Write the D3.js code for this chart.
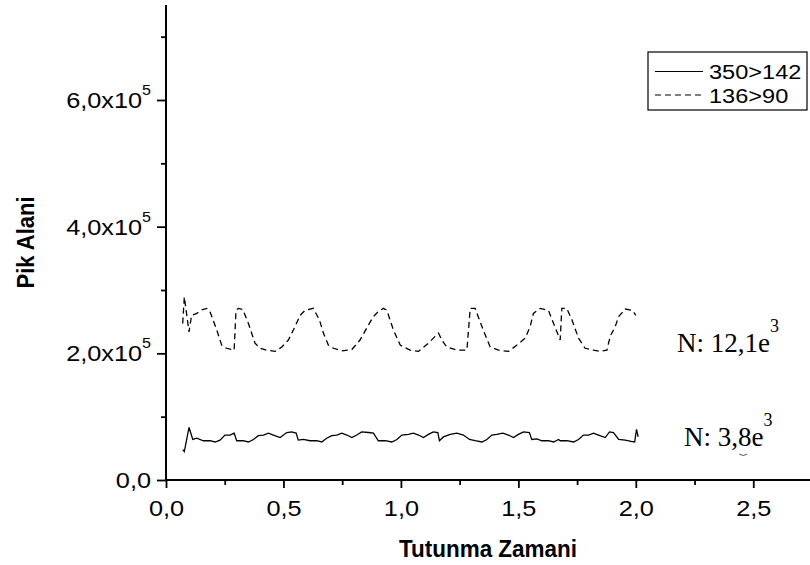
<!DOCTYPE html>
<html>
<head>
<meta charset="utf-8">
<script src="https://cdn.jsdelivr.net/npm/d3@7"></script>
<style>
  html, body { margin: 0; padding: 0; background: #fff; }
  svg { display: block; }
  text { fill: #000; }
</style>
</head>
<body>
<svg id="chart" width="810" height="565"></svg>
<script>
// ---- data ----
const series1Name = "350>142";
const series2Name = "136>90";
const s1Time = [0.071,0.078,0.098,0.114,0.131,0.159,0.187,0.209,0.230,0.251,0.273,0.290,0.301,0.329,0.351,0.372,0.393,0.415,0.436,0.457,0.486,0.514,0.535,0.554,0.563,0.585,0.613,0.642,0.663,0.684,0.706,0.727,0.748,0.770,0.791,0.812,0.833,0.862,0.883,0.904,0.933,0.961,0.983,1.004,1.032,1.053,1.075,1.096,1.117,1.138,1.157,1.164,1.181,1.210,1.238,1.266,1.292,1.316,1.345,1.366,1.387,1.408,1.434,1.458,1.479,1.500,1.522,1.547,1.557,1.579,1.600,1.628,1.650,1.671,1.678,1.706,1.735,1.756,1.777,1.799,1.820,1.841,1.870,1.888,1.905,1.927,1.955,1.980,1.995,2.003,2.010];
const s1Value = [48000,45000,83000,64000,66000,62000,62000,60000,63000,71000,71000,74000,62000,62000,60000,64000,70000,71000,74000,71000,67000,75000,76000,74000,63000,64000,62000,62000,60000,66000,70000,71000,74000,71000,67000,71000,76000,75000,74000,62000,62000,60000,64000,71000,72000,74000,71000,67000,72000,76000,75000,62000,68000,72000,74000,71000,64000,62000,60000,64000,71000,72000,74000,71000,67000,72000,76000,75000,64000,65000,62000,62000,60000,64000,62000,62000,60000,64000,71000,71000,74000,71000,67000,76000,75000,64000,63000,61000,60000,80000,68000];
const s2Time = [0.071,0.078,0.098,0.109,0.131,0.148,0.173,0.187,0.216,0.237,0.258,0.290,0.298,0.308,0.327,0.351,0.379,0.400,0.429,0.464,0.493,0.521,0.549,0.571,0.592,0.627,0.653,0.670,0.691,0.713,0.748,0.791,0.826,0.862,0.883,0.904,0.926,0.940,0.968,0.997,1.039,1.075,1.117,1.160,1.174,1.195,1.238,1.281,1.295,1.316,1.337,1.359,1.380,1.415,1.458,1.494,1.529,1.550,1.564,1.593,1.628,1.650,1.678,1.685,1.706,1.728,1.756,1.784,1.820,1.848,1.877,1.891,1.912,1.927,1.955,1.985,2.000];
const s2Value = [247000,289000,234000,260000,263000,268000,271000,266000,237000,213000,208000,205000,268000,271000,269000,247000,216000,208000,205000,203000,210000,221000,242000,260000,268000,271000,253000,232000,213000,208000,204000,206000,221000,245000,258000,266000,271000,268000,237000,213000,205000,203000,216000,232000,221000,210000,205000,205000,271000,271000,250000,229000,210000,205000,203000,213000,224000,242000,263000,271000,268000,247000,221000,271000,271000,253000,224000,208000,205000,203000,205000,227000,242000,258000,270000,268000,260000];
const xTicks = [0, 0.5, 1.0, 1.5, 2.0, 2.5];
const xTickLabels = ["0,0", "0,5", "1,0", "1,5", "2,0", "2,5"];
const yTicks = [0, 200000, 400000, 600000];
const yTickMantissa = ["0,0", "2,0x10", "4,0x10", "6,0x10"];
const yTickExponent = ["", "5", "5", "5"];
const annotations = [
  { base: "N: 12,1e", sup: "3", t: 2.175, v: 202000 },
  { base: "N: 3,8e", sup: "3", t: 2.205, v: 53700 }
];

// ---- layout ----
const svg = d3.select("#chart");
const x = d3.scaleLinear().domain([0, 2.75]).range([166, 812]);
const y = d3.scaleLinear().domain([0, 750000]).range([480, 5]);
const SANS = "Liberation Sans, Arial, Helvetica, sans-serif";
const SERIF = "Liberation Serif, Times New Roman, serif";
const STRETCH = 1.15;

// axes
const xAxis = d3.axisBottom(x).tickValues(xTicks).tickFormat((d, i) => xTickLabels[i]).tickSize(8).tickPadding(12);
const xMinor = d3.axisBottom(x).tickValues(d3.range(0.25, 2.75, 0.5)).tickFormat("").tickSize(5);
const yAxis = d3.axisLeft(y).tickValues(yTicks).tickFormat("").tickSize(9);
const yMinor = d3.axisLeft(y).tickValues([100000, 300000, 500000, 700000]).tickFormat("").tickSize(5);

function styleAxis(g) {
  g.select(".domain").remove();
  g.selectAll("line").attr("stroke", "#000").attr("stroke-width", 1.8);
  g.selectAll("text").attr("font-family", SANS).attr("font-size", 22).attr("fill", "#000")
    .attr("transform", `scale(${STRETCH},1)`);
}

svg.append("g").attr("transform", `translate(0,${y(0)})`).call(xAxis).call(styleAxis);
svg.append("g").attr("transform", `translate(0,${y(0)})`).call(xMinor).call(styleAxis);
svg.append("g").attr("transform", `translate(${x(0)},0)`).call(yAxis).call(styleAxis);
svg.append("g").attr("transform", `translate(${x(0)},0)`).call(yMinor).call(styleAxis);

// axis lines
svg.append("line").attr("x1", x(0)).attr("x2", 810).attr("y1", y(0)).attr("y2", y(0)).attr("stroke", "#000").attr("stroke-width", 2);
svg.append("line").attr("x1", x(0)).attr("x2", x(0)).attr("y1", y(0)).attr("y2", y(750000)).attr("stroke", "#000").attr("stroke-width", 2);

// y tick labels with superscripts
yTicks.forEach((v, i) => {
  const g = svg.append("g").attr("transform", `translate(151,${y(v) + 8}) scale(${STRETCH},1)`);
  const t = g.append("text").attr("x", 0).attr("y", 0).attr("text-anchor", "end")
    .attr("font-family", SANS).attr("font-size", 22);
  t.append("tspan").text(yTickMantissa[i]);
  if (yTickExponent[i]) t.append("tspan").attr("font-size", 14).attr("dy", -13).text(yTickExponent[i]);
});

// axis titles
svg.append("text").attr("x", x(0) + (810 - x(0)) / 2).attr("y", 557).attr("text-anchor", "middle")
  .attr("font-family", SANS).attr("font-weight", "bold").attr("font-size", 23)
  .attr("textLength", 178).attr("lengthAdjust", "spacingAndGlyphs").text("Tutunma Zamani");
svg.append("text").attr("transform", `translate(34,${(y(0) + y(750000)) / 2}) rotate(-90)`).attr("text-anchor", "middle")
  .attr("font-family", SANS).attr("font-weight", "bold").attr("font-size", 23)
  .attr("textLength", 92).attr("lengthAdjust", "spacingAndGlyphs").text("Pik Alani");

// lines
const line = d3.line().x(d => x(d[0])).y(d => y(d[1]));
const d1 = s1Time.map((t, i) => [t, s1Value[i]]);
const d2 = s2Time.map((t, i) => [t, s2Value[i]]);
svg.append("path").datum(d1).attr("d", line).attr("fill", "none").attr("stroke", "#000").attr("stroke-width", 1.3);
svg.append("path").datum(d2).attr("d", line).attr("fill", "none").attr("stroke", "#000").attr("stroke-width", 1.3).attr("stroke-dasharray", "6,4");

// annotations
annotations.forEach(a => {
  const t = svg.append("text").attr("x", x(a.t)).attr("y", y(a.v)).attr("font-family", SERIF).attr("font-size", 27);
  t.append("tspan").text(a.base);
  t.append("tspan").attr("font-size", 18).attr("dy", -20).text(a.sup);
});
// small stray mark
svg.append("path").attr("d", `M${x(2.44)},${y(41000)} q4,3 8,0`).attr("fill", "none").attr("stroke", "#555").attr("stroke-width", 1);

// legend
const lg = svg.append("g");
lg.append("rect").attr("x", 648).attr("y", 52).attr("width", 159).attr("height", 58).attr("fill", "#fff").attr("stroke", "#000").attr("stroke-width", 1.2);
const legendItems = [{ name: series1Name, dash: null, cy: 71.5 }, { name: series2Name, dash: "6,4", cy: 95 }];
legendItems.forEach(it => {
  lg.append("line").attr("x1", 655).attr("x2", 703).attr("y1", it.cy).attr("y2", it.cy).attr("stroke", "#000").attr("stroke-width", 1.2).attr("stroke-dasharray", it.dash);
  lg.append("g").attr("transform", `translate(709,${it.cy + 7.5}) scale(${STRETCH},1)`)
    .append("text").attr("x", 0).attr("y", 0).attr("font-family", SANS).attr("font-size", 20.5).text(it.name);
});
</script>
</body>
</html>
